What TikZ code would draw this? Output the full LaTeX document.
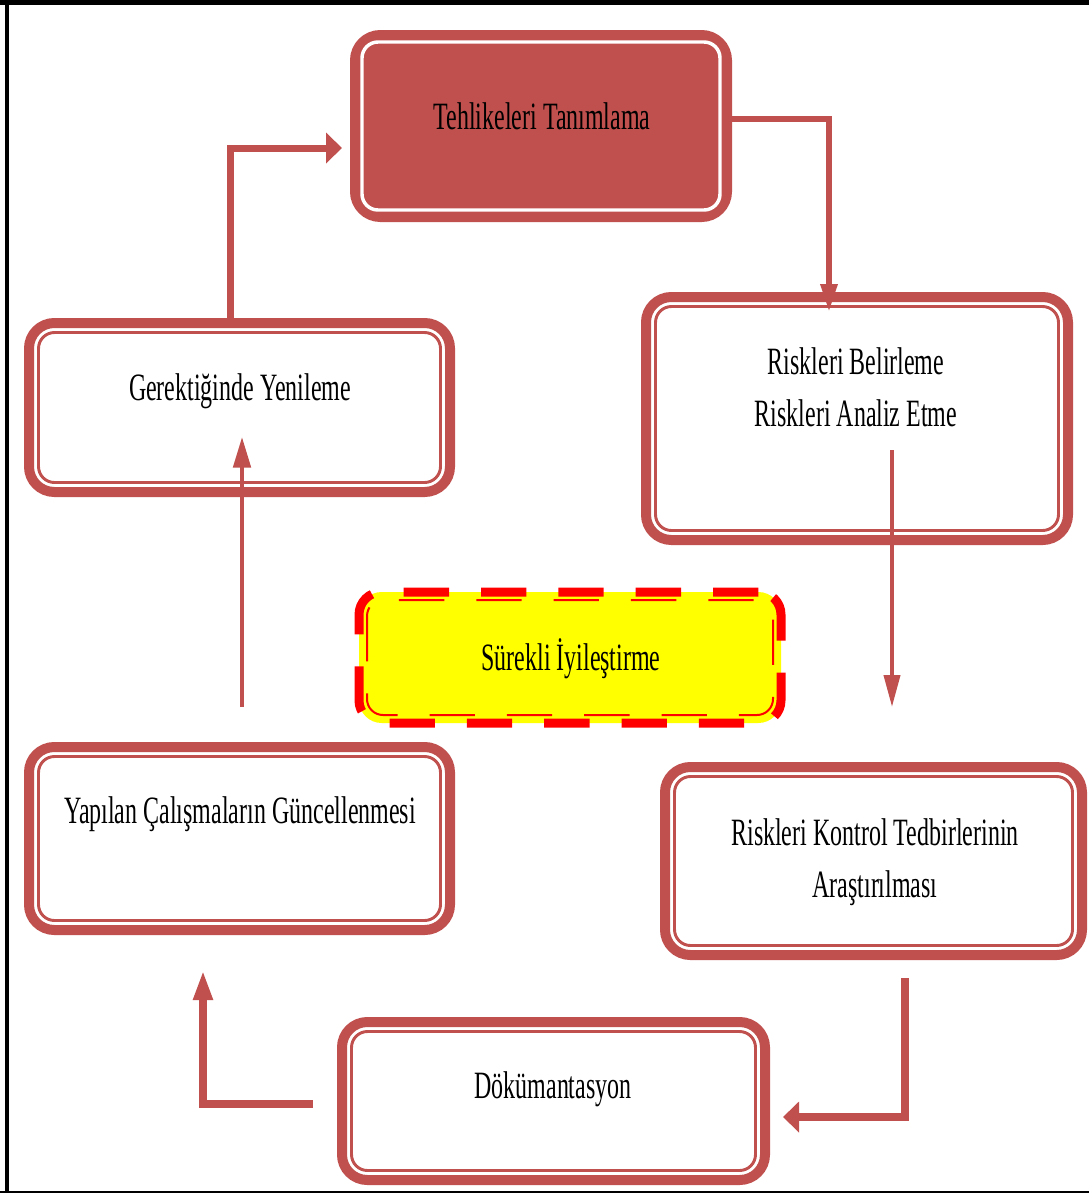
\documentclass[tikz,border=0pt]{standalone}
\usepackage{fontspec}
\setmainfont{Liberation Serif}[FakeStretch=0.62]
\usetikzlibrary{arrows.meta}
\definecolor{boxred}{RGB}{192,80,77}
\definecolor{dashred}{RGB}{255,0,0}
\definecolor{boxyellow}{RGB}{255,255,0}
\tikzset{
  boxsize/.style 2 args={minimum width=#1*0.75pt, minimum height=#2*0.75pt},
  stepbox/.style={draw=boxred, fill=white, line width=7.5pt, rounded corners=19pt,
    inner sep=0pt, outer sep=0pt},
  innerline/.style={draw=boxred, line width=2.2pt, rounded corners=12pt},
  dashbox/.style={draw=dashred, fill=boxyellow, line width=6.75pt, rounded corners=17pt,
    dash pattern=on 34pt off 24pt, inner sep=0pt, outer sep=0pt},
  boxtext/.style={font=\fontsize{29}{39}\selectfont, align=center, anchor=base, inner sep=0pt},
  flow/.style={draw=boxred, line width=#1},
  flow/.default=4.5pt
}
\begin{document}
\begin{tikzpicture}[x=0.75pt, y=-0.75pt]
\useasboundingbox (0,0) rectangle (1089,1193);
% frame
\draw[line width=3.75pt] (0,2.5) -- (1089,2.5);
\draw[line width=3pt] (7,0) -- (7,1193);
\draw[line width=1.5pt] (0,1192) -- (1089,1192);
%%%%%%%%%%%%%%%%%%%%%%%%%%%%%%
\node[stepbox, fill=boxred, boxsize={372}{182}] (tanim) at (541,126) {};
\node[stepbox, boxsize={422}{243}] (belirle) at (857,418.5) {};
\node[stepbox, boxsize={421}{169}] (yenile) at (239.5,407.5) {};
\node[dashbox, boxsize={422}{131}] (surekli) at (570,657.5) {};
\node[stepbox, boxsize={421}{183}] (guncel) at (239.5,838.5) {};
\node[stepbox, boxsize={417}{188}] (kontrol) at (873.5,861) {};
\node[stepbox, boxsize={423}{158}] (dokuman) at (553.5,1101) {};
%%%%%%%%%%%%%%%%%%%%%%%%%%%%%%
\draw[innerline, draw=white, line width=2.6pt] ([shift={(7,7)}]tanim.north west) rectangle ([shift={(-7,-7)}]tanim.south east);
\draw[innerline] ([shift={(9.5,9.5)}]belirle.north west) rectangle ([shift={(-9.5,-9.5)}]belirle.south east);
\draw[innerline] ([shift={(9.5,9.5)}]yenile.north west) rectangle ([shift={(-9.5,-9.5)}]yenile.south east);
\draw[innerline] ([shift={(9.5,9.5)}]guncel.north west) rectangle ([shift={(-9.5,-9.5)}]guncel.south east);
\draw[innerline] ([shift={(9.5,9.5)}]kontrol.north west) rectangle ([shift={(-9.5,-9.5)}]kontrol.south east);
\draw[innerline] ([shift={(9.5,9.5)}]dokuman.north west) rectangle ([shift={(-9.5,-9.5)}]dokuman.south east);
\draw[innerline, draw=dashred, line width=1.5pt, dash pattern=on 34pt off 24pt]
  ([shift={(8,8)}]surekli.north west) rectangle ([shift={(-8,-8)}]surekli.south east);
%%%%%%%%%%%%%%%%%%%%%%%%%%%%%%
\node[boxtext] (tanim-t) at (542,129) {Tehlikeleri Tanımlama};
\node[boxtext] (belirle-t) at (856,426) {Riskleri Belirleme\\Riskleri Analiz Etme};
\node[boxtext] (yenile-t) at (240,400) {Gerektiğinde Yenileme};
\node[boxtext] (surekli-t) at (571,670) {Sürekli İyileştirme};
\node[boxtext] (guncel-t) at (240,823) {Yapılan Çalışmaların Güncellenmesi};
\node[boxtext] (kontrol-t) at (875,897) {Riskleri Kontrol Tedbirlerinin\\Araştırılması};
\node[boxtext] (dokuman-t) at (553,1098) {Dökümantasyon};
%%%%%%%%%%%%%%%%%%%%%%%%%%%%%%
\draw[flow=5.25pt, -{Triangle[length=12pt,width=22.5pt]}]
  ([shift={(-9.5,-5)}]yenile.north) |- ([shift={(-13,22)}]tanim.west);
\draw[flow=4.5pt, -{Triangle[length=21pt,width=12pt]}]
  ([shift={(0,-7)}]tanim.east) -| ([shift={(-28,15)}]belirle.north);
\draw[flow=3pt, -{Triangle[length=24pt,width=12pt]}]
  ([shift={(35,31.5)}]belirle.center) -- ([shift={(18.5,-60)}]kontrol.north);
\draw[flow=6pt, -{Triangle[length=12pt,width=22.5pt]}]
  ([shift={(31.5,23)}]kontrol.south) |- ([shift={(18,16)}]dokuman.east);
\draw[flow=6pt, -{Triangle[length=22.5pt,width=13.5pt]}]
  ([shift={(-29,3)}]dokuman.west) -| ([shift={(-36.5,40)}]guncel.south);
\draw[flow=3pt, -{Triangle[length=23pt,width=13pt]}]
  ([shift={(2.5,-40)}]guncel.north) -- ([shift={(2.5,-55)}]yenile.south);
\end{tikzpicture}
\end{document}
